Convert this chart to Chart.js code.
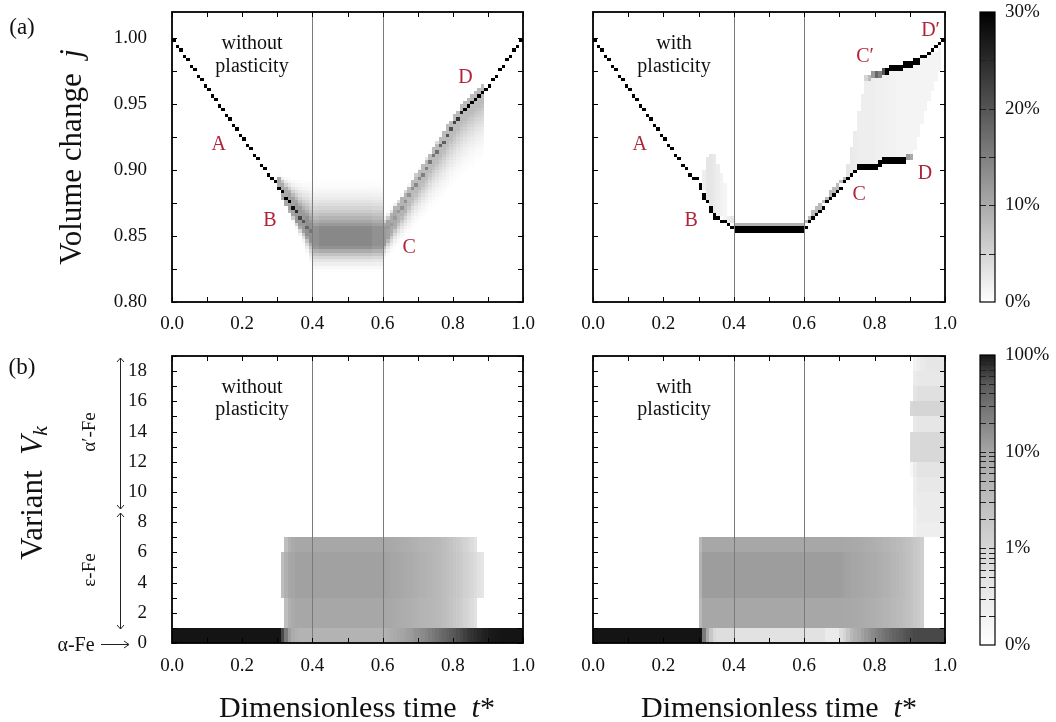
<!DOCTYPE html>
<html>
<head>
<meta charset="utf-8">
<script src="https://cdn.jsdelivr.net/npm/chart.js@4.4.0/dist/chart.umd.min.js"></script>
<style>
    body { margin: 0; width: 1056px; height: 722px; overflow: hidden; position: relative; background: #fff;
           font-family: "Liberation Serif", "Times New Roman", serif; color: #111; }
    canvas { position: absolute; }
    .t { position: absolute; white-space: nowrap; line-height: 1; }
    .c { transform: translate(-50%, -50%); }
    .r { transform: translate(-50%, -50%) rotate(-90deg); }
    .note { font-size: 20px; }
    .axt { font-size: 30px; }
    .ayt { font-size: 31px; }
    sub { font-size: 0.7em; vertical-align: -0.25em; line-height: 0; }
</style>
</head>
<body>
<canvas id="volNoPl"></canvas>
<canvas id="volPl"></canvas>
<canvas id="varNoPl"></canvas>
<canvas id="varPl"></canvas>
<canvas id="barVol"></canvas>
<canvas id="barVar"></canvas>

<svg width="1056" height="722" style="position:absolute;left:0;top:0">
    <g stroke="#222" stroke-width="1" fill="none">
        <line x1="120.5" y1="358" x2="120.5" y2="509"/>
        <polyline points="117,362 120.5,358 124,362"/>
        <polyline points="117,505 120.5,509 124,505"/>
        <line x1="120.5" y1="513" x2="120.5" y2="629"/>
        <polyline points="117,517 120.5,513 124,517"/>
        <polyline points="117,625 120.5,629 124,625"/>
        <line x1="101" y1="644.5" x2="129" y2="644.5"/>
        <polyline points="124,641 129,644.5 124,648"/>
    </g>
</svg>

<div class="t c" style="left:22px;top:26px;font-size:23px">(a)</div>
<div class="t c" style="left:22px;top:366px;font-size:23px">(b)</div>
<div class="t r ayt" style="left:70px;top:157px">Volume change&nbsp; <i>j</i></div>
<div class="t r ayt" style="left:31px;top:493px">Variant&nbsp; <i>V<sub>k</sub></i></div>
<div class="t r" style="left:88px;top:432px;font-size:19px">α′-Fe</div>
<div class="t r" style="left:88px;top:570px;font-size:19px">ε-Fe</div>
<div class="t c" style="left:76px;top:644px;font-size:20px">α-Fe</div>
<div class="t c axt" style="left:357px;top:707px">Dimensionless time&nbsp; <i>t</i>*</div>
<div class="t c axt" style="left:779px;top:707px">Dimensionless time&nbsp; <i>t</i>*</div>

<div class="t c note" style="left:252px;top:42px">without</div>
<div class="t c note" style="left:252px;top:65px">plasticity</div>
<div class="t c note" style="left:674px;top:42px">with</div>
<div class="t c note" style="left:674px;top:65px">plasticity</div>
<div class="t c note" style="left:252px;top:386px">without</div>
<div class="t c note" style="left:252px;top:408px">plasticity</div>
<div class="t c note" style="left:674px;top:386px">with</div>
<div class="t c note" style="left:674px;top:408px">plasticity</div>

<script>
// ===== DATA =====
const rep = (v, n) => Array(n).fill(v);

// axes
const tTicks = [0, 0.2, 0.4, 0.6, 0.8, 1.0];
const jTicks = [0.80, 0.85, 0.90, 0.95, 1.00];
const vTicks = [0, 2, 4, 6, 8, 10, 12, 14, 16, 18];
const guideTimes = [0.4, 0.6];
const cbVolTicks = [0, 10, 20, 30];
const cbVarLabels = ['0%', '1%', '10%', '100%'];

// (a) volume change j, one column per 0.01 of t*  (share in %, colour scale 0-30%)
const woCore = [
    0.998, 0.994, 0.991, 0.987, 0.983, 0.979, 0.976, 0.972, 0.968, 0.964,
    0.961, 0.957, 0.953, 0.949, 0.946, 0.942, 0.938, 0.934, 0.931, 0.927,
    0.923, 0.919, 0.916, 0.912, 0.908, 0.904, 0.901, 0.897, 0.894, 0.891,
    0.887, 0.883, 0.879, 0.876, 0.872, 0.868, 0.864, 0.861, 0.857, 0.853,
    ...rep(0.849, 20),
    0.851, 0.855, 0.859, 0.864, 0.868, 0.872, 0.876, 0.880, 0.885, 0.889,
    0.893, 0.897, 0.901, 0.906, 0.910, 0.914, 0.918, 0.922, 0.927, 0.931,
    0.935, 0.939, 0.943, 0.946, 0.949, 0.951, 0.954, 0.956, 0.958, 0.961,
    0.964, 0.968, 0.972, 0.975, 0.979, 0.983, 0.987, 0.990, 0.994, 0.998
];
const woCoreP = [
    ...rep(100, 30),
    70, 50, 40, 32, 28, 25, 22, 20, 18, 16,
    13, 13, 14, 14, 14, 14, 14, 14, 14, 14, 14, 14, 14, 14, 14, 14, 14, 13, 13, 13,
    12, 12, 12, 12, 12, 13, 13, 13, 13, 14,
    14, 15, 15, 16, 16, 17, 18, 19, 20, 21,
    22, 24, 26, 30, 36, 42, 50, 60, 75, 90,
    ...rep(100, 10)
];
const woHaloLo = [
    ...rep(null, 30),
    0.884, 0.878, 0.872, 0.866, 0.860, 0.854, 0.848, 0.842, 0.834, 0.826,
    ...rep(0.820, 20),
    0.830, 0.833, 0.835, 0.838, 0.840, 0.843, 0.846, 0.848, 0.851, 0.854,
    0.856, 0.859, 0.861, 0.864, 0.867, 0.869, 0.872, 0.874, 0.877, 0.880,
    0.882, 0.885, 0.887, 0.890, 0.893, 0.895, 0.898, 0.900, 0.903, null,
    ...rep(null, 10)
];
const woHaloHi = [
    ...rep(null, 30),
    0.897, 0.897, 0.897, 0.896, 0.896, 0.896, 0.896, 0.896, 0.897, 0.897,
    ...rep(0.897, 20),
    0.868, 0.870, 0.873, 0.876, 0.879, 0.882, 0.886, 0.890, 0.894, 0.898,
    0.902, 0.906, 0.910, 0.914, 0.918, 0.922, 0.926, 0.930, 0.934, 0.938,
    0.942, 0.946, 0.950, 0.953, 0.956, 0.958, 0.961, 0.963, 0.965, null,
    ...rep(null, 10)
];
const woHaloP = [
    ...rep(null, 30),
    10, 10, 10, 11, 11, 12, 12, 12, 13, 13,
    13, 13, 14, 14, 14, 14, 14, 14, 14, 14, 14, 14, 14, 14, 14, 14, 14, 13, 13, 13,
    12, 11, 10, 10, 9, 9, 9, 8, 8, 8,
    ...rep(8, 10),
    8, 8, 8, 8, 8, 8, 8, 8, 8, null,
    ...rep(null, 10)
];

const wCore = [
    0.998, 0.994, 0.991, 0.987, 0.983, 0.979, 0.976, 0.972, 0.968, 0.964,
    0.961, 0.957, 0.953, 0.949, 0.946, 0.942, 0.938, 0.934, 0.931, 0.927,
    0.923, 0.919, 0.916, 0.912, 0.908, 0.904, 0.901, 0.897, 0.894, 0.893,
    0.887, 0.881, 0.876, 0.869, 0.866, 0.864, 0.862, 0.860, 0.858, 0.857,
    ...rep(0.855, 20),
    0.857, 0.860, 0.863, 0.866, 0.869, 0.872, 0.875, 0.878, 0.881, 0.884,
    0.887, 0.890, 0.893, 0.896, 0.899, 0.902, 0.903, 0.903, 0.903, 0.903,
    0.903, 0.904, 0.907, 0.907, 0.907, 0.907, 0.907, 0.907, 0.907, 0.909,
    0.909, ...rep(null, 9)
];
const wCoreP = [...rep(100, 89), 12, 10, ...rep(null, 9)];
const wUpper = [
    ...rep(null, 77),
    0.970, 0.971, 0.972, 0.973, 0.973, 0.974,
    0.976, 0.977, 0.977, 0.978, 0.978, 0.980, 0.981, 0.981, 0.982, 0.982,
    0.985, 0.986, 0.988, 0.990, 0.993, 0.995, 0.998
];
const wUpperP = [...rep(null, 77), 5, 8, 12, 18, 15, 20, ...rep(100, 17)];
const wThick = [...rep(1, 30), 2, 2, 1, 2, 2, 1, 1, 1, 1, 1, ...rep(2, 20), ...rep(1, 15), ...rep(2, 18), ...rep(1, 7)];
const wHaloLo = [
    ...rep(null, 31),
    0.884, 0.878, 0.872, 0.868, 0.866, 0.864, 0.862, 0.860, 0.859,
    ...rep(0.8575, 20),
    0.859, 0.862, 0.865, 0.868, 0.871, 0.874, 0.877, 0.880, 0.883, 0.886,
    0.889, 0.892, 0.894, 0.897, 0.900, 0.905, 0.905, 0.905, 0.905, 0.905,
    0.905, 0.906, 0.909, 0.909, 0.909, 0.909, 0.909, 0.909, 0.909, 0.911,
    0.912, 0.915, 0.925, 0.935, 0.945, 0.952, 0.960, 0.968, 0.976, null
];
const wHaloHi = [
    ...rep(null, 31),
    0.900, 0.910, 0.912, 0.912, 0.905, 0.898, 0.890, 0.866, 0.864,
    ...rep(0.860, 20),
    0.863, 0.866, 0.869, 0.872, 0.875, 0.878, 0.881, 0.884, 0.887, 0.890,
    0.893, 0.896, 0.905, 0.918, 0.930, 0.945, 0.958, 0.969, 0.970, 0.971,
    0.972, 0.972, 0.973, 0.975, 0.976, 0.976, 0.977, 0.977, 0.979, 0.980,
    0.980, 0.981, 0.981, 0.984, 0.985, 0.987, 0.989, 0.991, 0.992, null
];
const wHaloP = [
    ...rep(null, 31),
    2, 3, 3, 2.5, 2, 1.5, 1.2, 2, 3,
    ...rep(9, 20),
    ...rep(8, 12),
    3, 2.5, 2.2, 2, 2, 2, 2, 2,
    1.8, 1.8, 1.7, 1.6, 1.5, 1.5, 1.4, 1.4, 1.3, 1.3,
    ...rep(1.3, 9), null
];

// (b) variant shares in %, one column per 0.01 of t*  (log colour scale)
const woAlpha = [
    ...rep(100, 31), 60, 25, 12, 7, 6, 5, 5, 5, 5,
    ...rep(5, 20),
    5, 6, 7, 8, 9, 10, 11, 12, 13, 15,
    16, 18, 20, 23, 26, 30, 34, 38, 43, 48,
    52, 56, 60, 65, 70, 74, 78, 82, 86, 90,
    93, 95, 97, 98, ...rep(100, 6)
];
const woEpsOuter = [   // variants 1, 2, 6
    ...rep(0, 32), 3, 6, 8, ...rep(9, 25),
    9, 8.8, 8.5, 8, 7.6, 7.2, 6.8, 6.4, 6, 5.5,
    5, 4.8, 4.6, 4.4, 4.2, 4, 3.6, 3.2, 2.8, 2.4,
    2, 1.7, 1.4, 1.1, 0.9, 0.7, 0.5, ...rep(0, 13)
];
const woEpsInner = [   // variants 3, 4, 5
    ...rep(0, 31), 3, 6, 9, 10, ...rep(11, 25),
    11, 10.5, 10, 9.5, 9, 8.5, 8, 7.5, 7, 6.5,
    6, 5.6, 5.2, 4.8, 4.4, 4, 3.6, 3.2, 2.8, 2.5,
    2.2, 1.9, 1.6, 1.3, 1.1, 0.9, 0.7, 0.5, 0.4, ...rep(0, 11)
];
const wAlpha = [
    ...rep(100, 31), 25, 8, 2, 0.8, 0.6, 0.6, 0.6, 0.6, 0.6,
    ...rep(0.5, 20),
    0.5, 0.5, 0.5, 0.5, 0.5, 0.5, 0.3, 0.3, 0.3, 0.3,
    0.6, 1, 2, 4, 6, 8, 11, 13, 15, 18,
    21, 24, 28, 32, 36, 40, 44, 48, 52, 55,
    57, 59, ...rep(60, 8)
];
const wEpsOuter = [
    ...rep(0, 30), 4, ...rep(9, 39),
    9, 8.8, 8.6, 8.4, 8.2, 8, 7.6, 7.2, 6.8, 6.4,
    6, 5.6, 5.2, 4.8, 4.4, 4, 3.7, 3.4, 3, 2.7,
    2.4, 2, 1.7, 1.4, ...rep(0, 6)
];
const wEpsInner = [
    ...rep(0, 30), 5, ...rep(12, 39),
    11.5, 11, 10.5, 10, 9.5, 9, 8.6, 8.2, 7.8, 7.4,
    7, 6.5, 6, 5.5, 5, 4.5, 4, 3.6, 3.2, 2.8,
    2.4, 2, 1.7, 1.4, ...rep(0, 6)
];
// alpha' variants 7..18, columns t* = 0.90 .. 1.00
const wAlphaPrime = [
    [0, 0.2, 0.25, 0.25, 0.25, 0.25, 0.25, 0.25, 0.25, 0.25],
    [0, 0.2, 0.3, 0.3, 0.3, 0.3, 0.3, 0.3, 0.3, 0.3],
    [0, 0.25, 0.3, 0.3, 0.3, 0.3, 0.3, 0.3, 0.3, 0.3],
    [0, 0.25, 0.35, 0.35, 0.35, 0.35, 0.35, 0.35, 0.35, 0.35],
    [0.15, 0.3, 0.45, 0.45, 0.45, 0.45, 0.45, 0.45, 0.45, 0.45],
    [0.8, 0.85, 0.85, 0.85, 0.85, 0.85, 0.85, 0.85, 0.85, 0.85],
    [0.8, 0.85, 0.85, 0.85, 0.85, 0.85, 0.85, 0.85, 0.85, 0.85],
    [0, 0.35, 0.4, 0.4, 0.4, 0.4, 0.4, 0.4, 0.4, 0.4],
    [0.9, 1, 1, 1, 1, 1, 1, 1, 1, 1],
    [0, 0.45, 0.55, 0.55, 0.55, 0.55, 0.55, 0.55, 0.55, 0.55],
    [0, 0.3, 0.35, 0.35, 0.35, 0.35, 0.35, 0.35, 0.35, 0.35],
    [0, 0.2, 0.25, 0.3, 0.35, 0.4, 0.4, 0.4, 0.4, 0.4]
];

// point labels (letter, t*, j)
const woLetters = [['A', 0.133, 0.919], ['B', 0.279, 0.862], ['C', 0.676, 0.841], ['D', 0.836, 0.970]];
const wLetters = [['A', 0.133, 0.919], ['B', 0.279, 0.862], ['C', 0.756, 0.881], ['D', 0.943, 0.897],
                  ['C\u2032', 0.773, 0.986], ['D\u2032', 0.959, 1.006]];

// ===== HELPERS =====
const serif = '"Liberation Serif", "Times New Roman", serif';
const tickFont = { family: serif, size: 19 };
const tStep = 0.01, jMin = 0.80, jMax = 1.02, jBin = 0.0025;

function grayLin(p) { // 0..30 %
    const g = Math.round(255 * (1 - Math.min(p, 30) / 30));
    return `rgb(${g},${g},${g})`;
}

const logStops = [[0, 255], [1 / 3, 213], [2 / 3, 165], [0.9, 90], [1, 20]];
function grayPos(pos) {
    pos = Math.max(0, Math.min(1, pos));
    for (let k = 1; k < logStops.length; k++) {
        const [p0, g0] = logStops[k - 1], [p1, g1] = logStops[k];
        if (pos <= p1) {
            const g = Math.round(g0 + (g1 - g0) * (pos - p0) / (p1 - p0));
            return `rgb(${g},${g},${g})`;
        }
    }
    return 'rgb(20,20,20)';
}
const grayLog = p => grayPos((Math.log10(p) + 1) / 3); // 0.1% .. 100%

function drawVolume(ctx, x, y, d) {
    const nBins = Math.round((jMax - jMin) / jBin);
    const pl = d.plateau || 0;
    for (let i = 0; i < d.core.length; i++) {
        const vals = new Float32Array(nBins);
        const lo = d.haloLo[i], hi = d.haloHi[i], hp = d.haloP[i], core = d.core[i];
        if (lo != null) {
            for (let b = 0; b < nBins; b++) {
                const c = jMin + (b + 0.5) * jBin;
                if (c < lo || c > hi) continue;
                let f = 1;
                if (d.haloExp && core != null) {
                    const dist = c >= core ? (c - core - pl) / Math.max(hi - core - pl, 1e-4)
                                           : (core - c - pl) / Math.max(core - lo - pl, 1e-4);
                    f = Math.pow(Math.max(0, 1 - Math.max(0, dist)), d.haloExp);
                }
                vals[b] = Math.max(vals[b], hp * f);
            }
        }
        const w = d.thick ? d.thick[i] : 1;
        const mark = (j, p) => {
            if (j == null || p == null) return;
            const list = w === 2 ? [j - jBin / 2, j + jBin / 2] : [j];
            list.forEach(v => {
                const b = Math.floor((v - jMin) / jBin + 1e-6);
                if (b >= 0 && b < nBins) vals[b] = Math.max(vals[b], p);
            });
        };
        mark(core, d.coreP[i]);
        if (d.upper) mark(d.upper[i], d.upperP[i]);

        const x0 = Math.round(x.getPixelForValue(i * tStep));
        const x1 = Math.round(x.getPixelForValue((i + 1) * tStep));
        for (let b = 0; b < nBins; b++) {
            if (vals[b] < 0.15) continue;
            const y0 = Math.round(y.getPixelForValue(jMin + (b + 1) * jBin));
            const y1 = Math.round(y.getPixelForValue(jMin + b * jBin));
            ctx.fillStyle = grayLin(vals[b]);
            ctx.fillRect(x0, y0, x1 - x0, y1 - y0);
        }
    }
}

function drawVariant(ctx, x, y, rows) {
    rows.forEach(([row, vals, c0]) => {
        const y0 = Math.round(y.getPixelForValue(row + 1)), y1 = Math.round(y.getPixelForValue(row));
        vals.forEach((p, k) => {
            if (!(p > 0.1)) return;
            const i = c0 + k;
            const x0 = Math.round(x.getPixelForValue(i * tStep));
            const x1 = Math.round(x.getPixelForValue((i + 1) * tStep));
            ctx.fillStyle = grayLog(p);
            ctx.fillRect(x0, y0, x1 - x0, y1 - y0);
        });
    });
}

// ===== PLUGINS =====
const panelSpecs = {};
const barSpecs = {};

const panelPlugin = {
    id: 'panel',
    afterDraw(chart) {
        const s = panelSpecs[chart.canvas.id];
        const { ctx, chartArea: a, scales: { x, y } } = chart;
        ctx.save();
        ctx.beginPath();
        ctx.rect(a.left, a.top, a.right - a.left, a.bottom - a.top);
        ctx.clip();
        s.heat(ctx, x, y);

        // thin guides at the hold phase
        ctx.strokeStyle = '#7a7a7a';
        ctx.lineWidth = 1;
        guideTimes.forEach(t => {
            const px = Math.round(x.getPixelForValue(t)) + 0.5;
            ctx.beginPath();
            ctx.moveTo(px, a.top);
            ctx.lineTo(px, a.bottom);
            ctx.stroke();
        });
        ctx.restore();

        // inward ticks on all four sides
        ctx.save();
        ctx.strokeStyle = '#000';
        ctx.lineWidth = 1;
        const L = 5;
        ctx.beginPath();
        for (let k = 0; k <= 10; k++) {
            const px = Math.round(x.getPixelForValue(k / 10)) + 0.5;
            ctx.moveTo(px, a.bottom); ctx.lineTo(px, a.bottom - L);
            ctx.moveTo(px, a.top); ctx.lineTo(px, a.top + L);
        }
        const n = Math.floor((y.max - y.min) / s.yStep + 1e-6);
        for (let k = 0; k <= n; k++) {
            const py = Math.round(y.getPixelForValue(y.min + k * s.yStep)) + 0.5;
            ctx.moveTo(a.left, py); ctx.lineTo(a.left + L, py);
            ctx.moveTo(a.right, py); ctx.lineTo(a.right - L, py);
        }
        ctx.stroke();
        ctx.lineWidth = 1.8;
        ctx.strokeRect(a.left, a.top, a.right - a.left, a.bottom - a.top);

        // point labels
        ctx.fillStyle = '#b0243a';
        ctx.font = '20px ' + serif;
        ctx.textAlign = 'center';
        ctx.textBaseline = 'middle';
        (s.letters || []).forEach(([txt, t, j]) => ctx.fillText(txt, x.getPixelForValue(t), y.getPixelForValue(j)));
        ctx.restore();
    }
};

const barPlugin = {
    id: 'cbar',
    afterDraw(chart) {
        const s = barSpecs[chart.canvas.id];
        const { ctx, chartArea: a, scales: { y } } = chart;
        ctx.save();
        const n = 290, step = (y.max - y.min) / n;
        for (let k = 0; k < n; k++) {
            const v0 = y.min + k * step;
            const top = Math.round(y.getPixelForValue(v0 + step));
            const bot = Math.round(y.getPixelForValue(v0));
            ctx.fillStyle = s.color(v0 + step / 2);
            ctx.fillRect(a.left, top, a.right - a.left, Math.max(1, bot - top));
        }
        ctx.strokeStyle = '#222';
        ctx.lineWidth = 1;
        ctx.beginPath();
        s.marks.forEach(v => {
            const py = Math.round(y.getPixelForValue(v)) + 0.5;
            ctx.moveTo(a.left, py); ctx.lineTo(a.left + 6, py);
            ctx.moveTo(a.right - 6, py); ctx.lineTo(a.right, py);
        });
        ctx.stroke();
        ctx.strokeStyle = '#000';
        ctx.lineWidth = 1.2;
        ctx.strokeRect(a.left, a.top, a.right - a.left, a.bottom - a.top);
        ctx.restore();
    }
};

// ===== CHARTS =====
function place(cv, L, T, W, H) {
    cv.width = W; cv.height = H;
    Object.assign(cv.style, { left: L + 'px', top: T + 'px', width: W + 'px', height: H + 'px' });
}

const noPad = s => { s.paddingLeft = 0; s.paddingRight = 0; s.paddingTop = 0; s.paddingBottom = 0; };

function makePanel(id, area, yOpt, spec) {
    const cv = document.getElementById(id);
    const padL = 100, padT = Math.min(20, area.top), padR = 25, padB = 45;
    const W = area.right - area.left + padL + padR, H = area.bottom - area.top + padT + padB;
    place(cv, area.left - padL, area.top - padT, W, H);
    panelSpecs[id] = spec;
    return new Chart(cv, {
        type: 'scatter',
        data: { datasets: [] },
        options: {
            responsive: false,
            animation: false,
            devicePixelRatio: 1,
            layout: { padding: { left: 0, top: padT, right: padR, bottom: 0 } },
            plugins: { legend: { display: false }, tooltip: { enabled: false } },
            scales: {
                x: {
                    type: 'linear', min: 0, max: 1,
                    grid: { display: false, drawTicks: false },
                    border: { display: false },
                    afterBuildTicks: s => { s.ticks = tTicks.map(v => ({ value: v })); },
                    afterFit: s => { s.height = padB; noPad(s); },
                    ticks: { padding: spec.xPad, color: '#111', font: tickFont, maxRotation: 0, autoSkip: false,
                             callback: v => v.toFixed(1) }
                },
                y: {
                    type: 'linear', min: yOpt.min, max: yOpt.max,
                    grid: { display: false, drawTicks: false },
                    border: { display: false },
                    afterBuildTicks: s => { s.ticks = yOpt.ticks.map(v => ({ value: v })); },
                    afterFit: s => { s.width = padL; noPad(s); },
                    ticks: { display: spec.showY, padding: 25, color: '#111', font: tickFont, autoSkip: false,
                             callback: yOpt.fmt }
                }
            }
        },
        plugins: [panelPlugin]
    });
}

function makeBar(id, area, yOpt, spec) {
    const cv = document.getElementById(id);
    const padL = 10, padT = 20, padR = 61, padB = 20;
    const W = area.right - area.left + padL + padR, H = area.bottom - area.top + padT + padB;
    place(cv, area.left - padL, area.top - padT, W, H);
    barSpecs[id] = spec;
    return new Chart(cv, {
        type: 'scatter',
        data: { datasets: [] },
        options: {
            responsive: false,
            animation: false,
            devicePixelRatio: 1,
            layout: { padding: { left: padL, top: padT, right: 0, bottom: padB } },
            plugins: { legend: { display: false }, tooltip: { enabled: false } },
            scales: {
                x: { display: false },
                y: {
                    type: 'linear', position: 'right', min: yOpt.min, max: yOpt.max,
                    grid: { display: false, drawTicks: false },
                    border: { display: false },
                    afterBuildTicks: s => { s.ticks = yOpt.ticks.map(v => ({ value: v })); },
                    afterFit: s => { s.width = padR; noPad(s); },
                    ticks: { padding: 10, color: '#111', font: tickFont, autoSkip: false, callback: yOpt.fmt }
                }
            }
        },
        plugins: [barPlugin]
    });
}

const jAxis = { min: jMin, max: jMax, ticks: jTicks, fmt: v => v.toFixed(2) };
const vAxis = { min: 0, max: 19, ticks: vTicks, fmt: v => String(v) };

makePanel('volNoPl', { left: 172, right: 523, top: 12, bottom: 302 }, jAxis, {
    showY: true, xPad: 11, yStep: 0.025, letters: woLetters,
    heat: (ctx, x, y) => drawVolume(ctx, x, y, {
        core: woCore, coreP: woCoreP, haloLo: woHaloLo, haloHi: woHaloHi, haloP: woHaloP,
        haloExp: 2.2, plateau: 0.007
    })
});
makePanel('volPl', { left: 593, right: 945, top: 12, bottom: 302 }, jAxis, {
    showY: false, xPad: 11, yStep: 0.025, letters: wLetters,
    heat: (ctx, x, y) => drawVolume(ctx, x, y, {
        core: wCore, coreP: wCoreP, upper: wUpper, upperP: wUpperP, thick: wThick,
        haloLo: wHaloLo, haloHi: wHaloHi, haloP: wHaloP, haloExp: 0
    })
});

const woRows = [[0, woAlpha, 0], [1, woEpsOuter, 0], [2, woEpsOuter, 0], [6, woEpsOuter, 0],
                [3, woEpsInner, 0], [4, woEpsInner, 0], [5, woEpsInner, 0]];
const wRows = [[0, wAlpha, 0], [1, wEpsOuter, 0], [2, wEpsOuter, 0], [6, wEpsOuter, 0],
               [3, wEpsInner, 0], [4, wEpsInner, 0], [5, wEpsInner, 0],
               ...wAlphaPrime.map((vals, r) => [7 + r, vals, 90])];

makePanel('varNoPl', { left: 172, right: 523, top: 356, bottom: 643 }, vAxis, {
    showY: true, xPad: 12, yStep: 1,
    heat: (ctx, x, y) => drawVariant(ctx, x, y, woRows)
});
makePanel('varPl', { left: 593, right: 945, top: 356, bottom: 643 }, vAxis, {
    showY: false, xPad: 12, yStep: 1,
    heat: (ctx, x, y) => drawVariant(ctx, x, y, wRows)
});

// colour bars
const logMarks = [1, 2];
for (let d = 0; d < 3; d++) for (let k = 2; k <= 9; k++) logMarks.push(d + Math.log10(k));

makeBar('barVol', { left: 980, right: 995, top: 12, bottom: 302 },
    { min: 0, max: 30, ticks: cbVolTicks, fmt: v => v + '%' },
    { color: grayLin, marks: [5, 10, 15, 20, 25] });
makeBar('barVar', { left: 980, right: 995, top: 355, bottom: 645 },
    { min: 0, max: 3, ticks: [0, 1, 2, 3], fmt: (v, i) => cbVarLabels[i] },
    { color: v => grayPos(v / 3), marks: logMarks });
</script>
</body>
</html>
